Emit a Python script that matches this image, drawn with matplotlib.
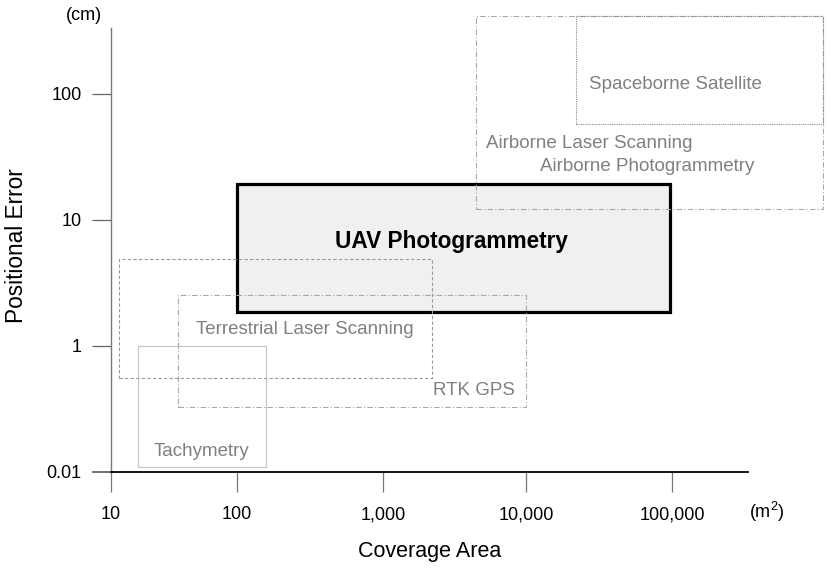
import numpy as np
import matplotlib
matplotlib.use("Agg")
import matplotlib.pyplot as plt
from matplotlib.patches import Rectangle

plt.rcParams['font.family'] = ['Liberation Sans', 'DejaVu Sans']
plt.rcParams['mathtext.fontset'] = 'custom'
plt.rcParams['mathtext.rm'] = 'Liberation Sans'
plt.rcParams['mathtext.it'] = 'Liberation Sans'

# ---- data -------------------------------------------------------------
methods = ['Tachymetry', 'Terrestrial Laser Scanning', 'RTK GPS',
           'UAV Photogrammetry', 'Airborne', 'Spaceborne Satellite']
area_min = [16.4, 11.6, 34, 100, 4470, 22000]          # m^2
area_max = [158, 2200, 10000, 97000, 1.08e6, 1.08e6]  # m^2
err_min = [0.012, 0.31, 0.108, 1.86, 12.2, 57.8]       # cm
err_max = [1.0, 4.9, 2.54, 19.3, 414, 414]             # cm

x_ticks = [10, 100, 1000, 10000, 100000]
x_ticklabels = ['10', '100', '1,000', '10,000', '100,000']
y_ticks = [0.01, 1, 10, 100]
y_ticklabels = ['0.01', '1', '10', '100']

# label texts and their positions (data coords)
labels = ['Tachymetry', 'Terrestrial Laser Scanning', 'RTK GPS', 'UAV Photogrammetry',
          'Airborne Laser Scanning', 'Airborne Photogrammetry', 'Spaceborne Satellite']
label_x = [51.8, 292, 8380, 3000, 5250, 12500, 106000]
label_y = [0.0215, 1.34, 0.2, 6.69, 40.8, 26.8, 118]
label_ha = ['center', 'center', 'right', 'center', 'left', 'left', 'center']

# ---- axis scales (drawn axis is not uniformly spaced per decade) ------
XLOG = [0, 1, 2, 3, 4, 5, 6, 7]
XPX = [-126, 0, 126, 272, 415, 561, 707, 853]
YLOG = [-4, -2, 0, 1, 2, 3, 4]
YPOS = [-1, 0, 1, 2, 3, 4, 5]


def _log(v):
    v = np.asarray(v, dtype=float)
    with np.errstate(divide='ignore', invalid='ignore'):
        return np.log10(np.clip(v, 1e-30, None))


def fx(v):
    return np.interp(_log(v), XLOG, XPX)


def ifx(p):
    return 10 ** np.interp(np.asarray(p, dtype=float), XPX, XLOG)


def fy(v):
    return np.interp(_log(v), YLOG, YPOS)


def ify(p):
    return 10 ** np.interp(np.asarray(p, dtype=float), YPOS, YLOG)


W, H = 831, 573
fig = plt.figure(figsize=(W / 100, H / 100), dpi=100)
ax = fig.add_axes([111 / W, (H - 472) / H, 720 / W, 464 / H])
ax.set_xscale('function', functions=(fx, ifx))
ax.set_yscale('function', functions=(fy, ify))
ax.set_xlim(10, float(ifx(720)))
ax.set_ylim(0.01, float(ify(464 / 126)))

# ---- boxes ------------------------------------------------------------
styles = [
    dict(edgecolor='#c8c8c8', facecolor='none', lw=0.9, ls='-', zorder=3),
    dict(edgecolor='#9a9a9a', facecolor='none', lw=0.8, ls=(0, (3, 2)), zorder=3),
    dict(edgecolor='#a8a8a8', facecolor='none', lw=0.8, ls=(0, (5, 2, 1, 2)), zorder=3),
    dict(edgecolor='black', facecolor='#f0f0f0', lw=2.3, ls='-', zorder=2),
    dict(edgecolor='#a8a8a8', facecolor='none', lw=0.8, ls=(0, (5, 2, 1, 2)), zorder=3),
    dict(edgecolor='#8a8a8a', facecolor='none', lw=0.8, ls=(0, (1, 1)), zorder=3),
]
for x0, x1, y0, y1, st in zip(area_min, area_max, err_min, err_max, styles):
    ax.add_patch(Rectangle((x0, y0), x1 - x0, y1 - y0, clip_on=False, **st))

for t, lx, ly, ha in zip(labels, label_x, label_y, label_ha):
    if t == 'UAV Photogrammetry':
        ax.text(lx, ly, t, ha=ha, va='center', fontsize=16.3, fontweight='bold',
                color='black', zorder=5)
    else:
        ax.text(lx, ly, t, ha=ha, va='center', fontsize=13.5, color='#808080', zorder=5)

# ---- axes styling -----------------------------------------------------
for s in ['top', 'right']:
    ax.spines[s].set_visible(False)
ax.spines['left'].set_color('#777777')
ax.spines['left'].set_linewidth(1.0)
ax.spines['left'].set_bounds(0.01, float(ify((472 - 28) / 126)))
ax.spines['bottom'].set_color('black')
ax.spines['bottom'].set_linewidth(1.3)
ax.spines['bottom'].set_bounds(10, float(ifx(748 - 111)))

ax.set_xticks(x_ticks)
ax.set_xticklabels(x_ticklabels)
ax.set_yticks(y_ticks)
ax.set_yticklabels(y_ticklabels)
ax.minorticks_off()
ax.tick_params(axis='x', direction='out', length=14.5, width=0.9, color='#777777',
               pad=10, labelsize=13)
ax.tick_params(axis='y', direction='out', length=14, width=0.9, color='#666666',
               pad=7, labelsize=13)
yt = ax.yaxis.get_major_ticks()
yt[0].tick1line.set_color('black')
yt[0].tick1line.set_markeredgewidth(1.3)
yt[1].tick1line.set_color('black')

fig.text(84 / W, 1 - 15 / H, '(cm)', ha='center', va='center', fontsize=13)
fig.text(767 / W, 1 - 512 / H, r'(m$\mathregular{^2}$)', ha='center', va='center',
         fontsize=13)
fig.text(17 / W, 1 - 246 / H, 'Positional Error', ha='center', va='center',
         rotation=90, fontsize=16.3)
fig.text(430 / W, 1 - 551 / H, 'Coverage Area', ha='center', va='center', fontsize=15.5)

fig.savefig('out.png', dpi=100)
